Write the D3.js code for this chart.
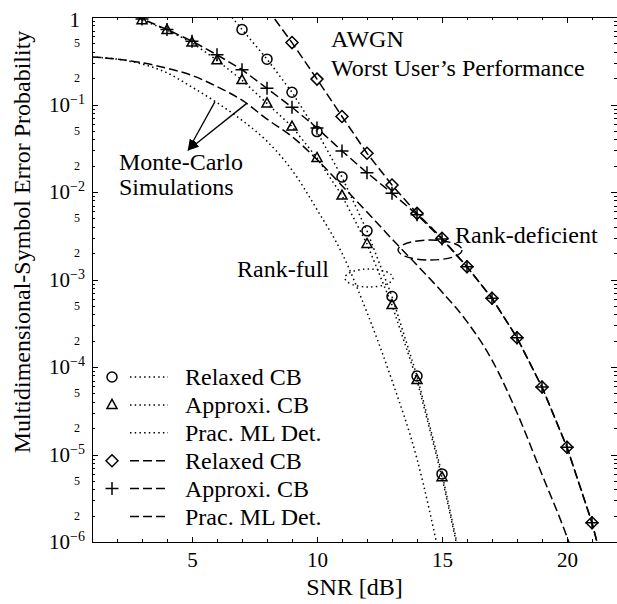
<!DOCTYPE html>
<html lang="en">
<head>
<meta charset="UTF-8">
<title>Worst User's Performance</title>
<script src="https://d3js.org/d3.v7.min.js"></script>
<style>
  body { margin: 0; background: #fff; }
  svg { display: block; font-family: "Liberation Serif", serif; }
  .axis path, .axis line { stroke: #000; stroke-width: 1; shape-rendering: crispEdges; }
  .curve { fill: none; stroke: #000; stroke-width: 1.5; }
  .mark { fill: none; stroke: #000; stroke-width: 1.5; }
</style>
</head>
<body>
<svg id="chart"></svg>
<script>
// ---- data (SNR in dB, error probability) ----
const relaxedFullSnr = [6, 7, 8, 9, 10, 11, 12, 13, 14, 15, 16];
const relaxedFullSer = [1.6, 0.72, 0.33, 0.138, 0.049, 0.0148, 0.0036, 6.4e-4, 7.9e-5, 6.0e-6, 2.9e-7];

const approxFullSnr = [3, 4, 5, 6, 7, 8, 9, 10, 11, 12, 13, 14, 15, 16];
const approxFullSer = [0.92, 0.71, 0.51, 0.32, 0.19, 0.103, 0.056, 0.0245, 0.0091, 0.00255, 5.1e-4, 7.1e-5, 5.5e-6, 2.7e-7];

const pracFullSnr = [1, 2, 3, 4, 5, 6, 7, 8, 9, 10, 11, 12, 13, 14, 15];
const pracFullSer = [0.35, 0.33, 0.29, 0.23, 0.158, 0.105, 0.066, 0.038, 0.0178, 0.0063, 0.002, 4.2e-4, 7e-5, 8.9e-6, 5e-7];

const relaxedDefSnr = [8, 9, 10, 11, 12, 13, 14, 15, 16, 17, 18, 19, 20, 21, 22];
const relaxedDefSer = [1.25, 0.51, 0.195, 0.073, 0.0277, 0.012, 0.0057, 0.00296, 0.0014, 6.1e-4, 2.16e-4, 5.9e-5, 1.21e-5, 1.66e-6, 1.3e-7];

const approxDefSnr = [2, 3, 4, 5, 6, 7, 8, 9, 10, 11, 12, 13, 14, 15, 16, 17, 18, 19, 20, 21, 22];
const approxDefSer = [1.25, 0.95, 0.72, 0.53, 0.37, 0.25, 0.153, 0.093, 0.054, 0.0294, 0.0166, 0.0097, 0.0055, 0.0029, 0.0014, 6.1e-4, 2.16e-4, 5.9e-5, 1.21e-5, 1.66e-6, 1.3e-7];

const pracDefSnr = [1, 2, 3, 4, 5, 6, 7, 8, 9, 10, 11, 12, 13, 14, 15, 16, 17, 18, 19, 20, 21];
const pracDefSer = [0.35, 0.33, 0.30, 0.26, 0.215, 0.16, 0.112, 0.068, 0.043, 0.0235, 0.0118, 0.0059, 0.0029, 0.00146, 7.2e-4, 3.3e-4, 1.2e-4, 3e-5, 5.9e-6, 1.14e-6, 1.5e-7];

const legendLabels = ["Relaxed CB", "Approxi. CB", "Prac. ML Det.", "Relaxed CB", "Approxi. CB", "Prac. ML Det."];
const xMajorTicks = [5, 10, 15, 20];
const yDecades = [0, -1, -2, -3, -4, -5, -6];

// ---- layout ----
const width = 617, height = 604;
const plot = {left: 92, right: 617, top: 17, bottom: 542};
const DOTTED = "1.5,3.2", DASHED = "9,4";

const svg = d3.select("#chart").attr("width", width).attr("height", height);

const x = d3.scaleLinear().domain([1, 22]).range([plot.left, plot.right]);
const y = d3.scaleLog().domain([1e-6, 1]).range([plot.bottom, plot.top]);

svg.append("clipPath").attr("id", "clip")
    .append("rect")
    .attr("x", plot.left).attr("y", plot.top)
    .attr("width", plot.right - plot.left).attr("height", plot.bottom - plot.top);

// marker shapes
const markers = {
    circle: "M5,0A5,5 0 1,1 -5,0A5,5 0 1,1 5,0Z",
    triangle: "M0,-5.5L5,3.5L-5,3.5Z",
    diamond: "M0,-6L6,0L0,6L-6,0Z",
    plus: "M-6.5,0H6.5M0,-6.5V6.5",
    none: null
};

const series = [
    {snr: relaxedFullSnr, ser: relaxedFullSer, dash: DOTTED, marker: "circle"},
    {snr: approxFullSnr, ser: approxFullSer, dash: DOTTED, marker: "triangle"},
    {snr: pracFullSnr, ser: pracFullSer, dash: DOTTED, marker: "none", smooth: true},
    {snr: relaxedDefSnr, ser: relaxedDefSer, dash: DASHED, marker: "diamond"},
    {snr: approxDefSnr, ser: approxDefSer, dash: DASHED, marker: "plus", offset: 6.5},
    {snr: pracDefSnr, ser: pracDefSer, dash: DASHED, marker: "none", smooth: true}
];

const plotArea = svg.append("g").attr("clip-path", "url(#clip)");

series.forEach(s => {
    const pts = s.snr.map((v, i) => [v, s.ser[i]]);
    const line = d3.line()
        .x(d => x(d[0]))
        .y(d => y(d[1]))
        .curve(s.smooth ? d3.curveMonotoneX : d3.curveLinear);
    plotArea.append("path")
        .datum(pts)
        .attr("class", "curve")
        .attr("stroke-dasharray", s.dash)
        .attr("stroke-dashoffset", s.offset || 0)
        .attr("d", line);
    if (markers[s.marker]) {
        plotArea.selectAll(null)
            .data(pts)
            .enter().append("path")
            .attr("class", "mark")
            .attr("transform", d => `translate(${x(d[0])},${y(d[1])})`)
            .attr("d", markers[s.marker]);
    }
});

// ---- axes (ticks point inward, box all round) ----
const xMinor = d3.range(2, 22);
svg.append("g").attr("class", "axis")
    .attr("transform", `translate(0,${plot.bottom})`)
    .call(d3.axisBottom(x).tickValues(xMinor).tickSize(-3).tickSizeOuter(0).tickFormat(""));
const xAxis = svg.append("g").attr("class", "axis")
    .attr("transform", `translate(0,${plot.bottom})`)
    .call(d3.axisBottom(x).tickValues(xMajorTicks).tickSize(-5.5).tickSizeOuter(0).tickPadding(10));
xAxis.selectAll("text").attr("font-size", 21).attr("font-family", "Liberation Serif").attr("fill", "#000");

svg.append("g").attr("class", "axis")
    .attr("transform", `translate(0,${plot.top})`)
    .call(d3.axisTop(x).tickValues(xMinor).tickSize(-3).tickSizeOuter(0).tickFormat(""));
svg.append("g").attr("class", "axis")
    .attr("transform", `translate(0,${plot.top})`)
    .call(d3.axisTop(x).tickValues(xMajorTicks).tickSize(-5.5).tickSizeOuter(0).tickFormat(""));

const yMajor = yDecades.map(e => Math.pow(10, e));
const yMinor = [];
yDecades.slice(1).forEach(e => d3.range(2, 10).forEach(k => yMinor.push(k * Math.pow(10, e))));

[[d3.axisLeft, plot.left], [d3.axisRight, plot.right - 0.5]].forEach(([ax, pos]) => {
    svg.append("g").attr("class", "axis")
        .attr("transform", `translate(${pos},0)`)
        .call(ax(y).tickValues(yMinor).tickSize(-3).tickSizeOuter(0).tickFormat(""));
    svg.append("g").attr("class", "axis")
        .attr("transform", `translate(${pos},0)`)
        .call(ax(y).tickValues(yMajor).tickSize(-6).tickSizeOuter(0).tickFormat(""));
});

// y tick labels: 1, 10^-k and the 5 / 2 in between
const yLab = svg.append("g").attr("fill", "#000");
yDecades.forEach(e => {
    const t = yLab.append("text").attr("text-anchor", "end")
        .attr("x", e === 0 ? 80 : 85)
        .attr("y", y(Math.pow(10, e)) + (e === 0 ? 10 : 7))
        .attr("font-size", 21);
    if (e === 0) { t.text("1"); return; }
    t.append("tspan").text("10");
    t.append("tspan").attr("font-size", 14).attr("dy", -8).text("\u2212" + (-e));
});
yDecades.slice(0, -1).forEach(e => {
    [5, 2].forEach(k => {
        yLab.append("text").attr("text-anchor", "end")
            .attr("x", 80).attr("y", y(k * Math.pow(10, e - 1)) + 4)
            .attr("font-size", 12).text(k);
    });
});

// axis titles
svg.append("text").attr("x", (plot.left + plot.right) / 2).attr("y", 595)
    .attr("text-anchor", "middle").attr("font-size", 24).text("SNR [dB]");
svg.append("text").attr("transform", "translate(30,242) rotate(-90)")
    .attr("text-anchor", "middle").attr("font-size", 24)
    .text("Multidimensional-Symbol Error Probability");

// ---- annotations (placed in data coordinates) ----
const notes = [
    {snr: 10.56, p: 0.454, text: "AWGN"},
    {snr: 10.56, p: 0.212, text: "Worst User\u2019s Performance"},
    {snr: 2.08, p: 0.0178, text: "Monte-Carlo"},
    {snr: 2.08, p: 0.0092, text: "Simulations"},
    {snr: 15.52, p: 0.00261, text: "Rank-deficient"},
    {snr: 6.8, p: 0.00107, text: "Rank-full"}
];
svg.append("g").selectAll("text").data(notes).enter().append("text")
    .attr("x", d => x(d.snr)).attr("y", d => y(d.p))
    .attr("font-size", 24).text(d => d.text);

svg.append("ellipse")
    .attr("cx", x(14.52)).attr("cy", y(0.00217)).attr("rx", 32).attr("ry", 10)
    .attr("fill", "none").attr("stroke", "#000").attr("stroke-width", 1.4)
    .attr("stroke-dasharray", DASHED);
svg.append("ellipse")
    .attr("cx", x(12.08)).attr("cy", y(0.00104)).attr("rx", 24).attr("ry", 9)
    .attr("fill", "none").attr("stroke", "#000").attr("stroke-width", 1.4)
    .attr("stroke-dasharray", DOTTED);

svg.append("defs").append("marker")
    .attr("id", "arrow").attr("viewBox", "0 0 10 10")
    .attr("refX", 9).attr("refY", 5)
    .attr("markerWidth", 9).attr("markerHeight", 9).attr("orient", "auto")
    .append("path").attr("d", "M0,1.5L10,5L0,8.5Z").attr("fill", "#000");

const tip = [4.85, 0.0302];
[[5.92, 0.108], [7.19, 0.103]].forEach(tail => {
    svg.append("line")
        .attr("x1", x(tail[0])).attr("y1", y(tail[1]))
        .attr("x2", x(tip[0])).attr("y2", y(tip[1]))
        .attr("stroke", "#000").attr("stroke-width", 1.3)
        .attr("marker-end", "url(#arrow)");
});

// ---- legend ----
const legendStyle = series.map(s => ({dash: s.dash, marker: s.marker}));
const legend = svg.append("g");
legendLabels.forEach((lab, i) => {
    const cy = 377 + i * 27.9;
    const st = legendStyle[i];
    if (markers[st.marker]) {
        legend.append("path").attr("class", "mark")
            .attr("transform", `translate(112,${cy})`)
            .attr("d", markers[st.marker]);
    }
    legend.append("line").attr("class", "curve")
        .attr("x1", 130).attr("x2", 168).attr("y1", cy).attr("y2", cy)
        .attr("stroke-dasharray", st.dash);
    legend.append("text").attr("x", 185).attr("y", cy + 8)
        .attr("font-size", 24).text(lab);
});
</script>
</body>
</html>
